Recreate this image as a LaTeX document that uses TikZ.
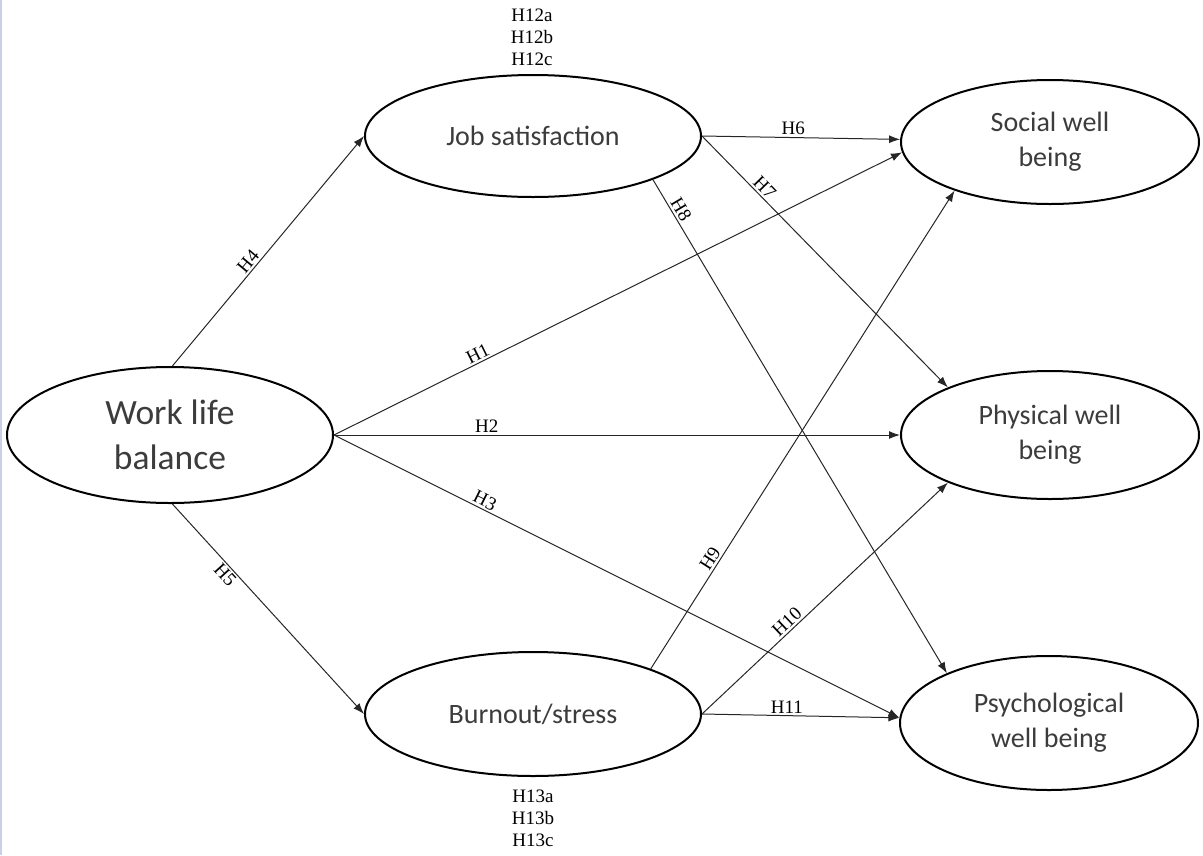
\documentclass[tikz,border=0pt]{standalone}
\usepackage{fontspec}
\setmainfont{Liberation Serif}
\newfontfamily\calib{Carlito}
\usetikzlibrary{arrows.meta,shapes.geometric}
\definecolor{txtgray}{HTML}{3C3C3C}
\definecolor{edgeblue}{HTML}{C8D0E8}
\begin{document}
\begin{tikzpicture}[x=1pt,y=-1pt,
  lv/.style={ellipse,draw=black,line width=2pt,inner sep=0pt,align=center,text=txtgray,
             font=\calib\fontsize{28}{35}\selectfont},
  conn/.style={line width=1pt,draw=black!85,-{Latex[length=11pt,width=8pt]}},
  hlab/.style={font=\fontsize{19}{22}\selectfont,inner sep=2pt,text=black}]
\useasboundingbox (0,0) rectangle (1203,855);
\draw[edgeblue,line width=1.5pt] (0.75,0) -- (0.75,855);

\node[lv,minimum width=326pt,minimum height=136pt,font=\calib\fontsize{35.5}{45}\selectfont] (wlb) at (170,435) {Work life\\balance};
\node[lv,minimum width=336pt,minimum height=122pt] (job) at (533,136) {Job satisfaction};
\node[lv,minimum width=336pt,minimum height=124pt] (burn) at (533,714) {Burnout/stress};
\node[lv,minimum width=298pt,minimum height=124pt] (soc) at (1050,142) {Social well\\being};
\node[lv,minimum width=298pt,minimum height=128pt] (phy) at (1050,435) {Physical well\\being};
\node[lv,minimum width=298pt,minimum height=134pt] (psy) at (1049,723) {Psychological\\well being};

\node[hlab,align=center] (h12) at (532,37) {H12a\\H12b\\H12c};
\node[hlab,align=center] (h13) at (533,818) {H13a\\H13b\\H13c};

\draw[conn] (wlb.88) -- node[hlab,sloped,above,pos=0.43] {H4} (job.180);
\draw[conn] (wlb.-88) -- node[hlab,sloped,below,pos=0.31] {H5} (burn.180);
\draw[conn] (wlb.0) -- node[hlab,sloped,above,pos=0.26] {H1} (soc.184.5);
\draw[conn] (wlb.0) -- node[hlab,above,pos=0.27] {H2} (phy.180);
\draw[conn] (wlb.0) -- node[hlab,sloped,above,pos=0.26] {H3} (psy.178);
\draw[conn] (job.0) -- node[hlab,above,pos=0.46] {H6} (soc.179);
\draw[conn] (job.0) -- node[hlab,sloped,above,pos=0.23] {H7} (phy.155);
\draw[conn] (job.-20.3) -- node[hlab,sloped,above,pos=0.07] {H8} (psy.154.7);
\draw[conn] (burn.21.4) -- node[hlab,sloped,above,pos=0.22] {H9} (soc.207.2);
\draw[conn] (burn.0) -- node[hlab,sloped,above,pos=0.37] {H10} (phy.205.7);
\draw[conn] (burn.0) -- node[hlab,above,pos=0.43] {H11} (psy.178);
\end{tikzpicture}
\end{document}
